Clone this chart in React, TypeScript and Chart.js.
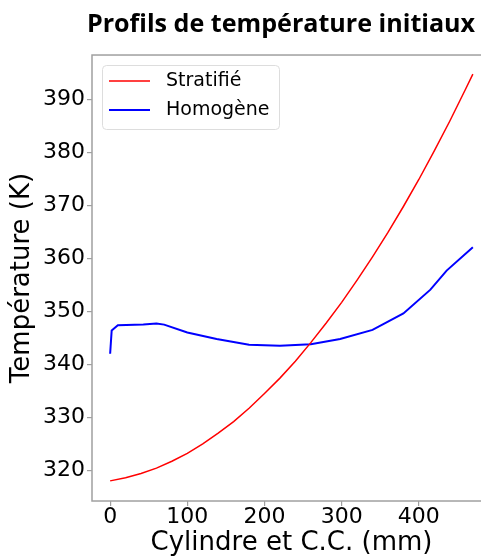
import React, { useEffect, useRef } from "react";
import { Chart, registerables } from "chart.js";

Chart.register(...registerables);

const TITLE = "Profils de température initiaux";
const X_LABEL = "Cylindre et C.C. (mm)";
const Y_LABEL = "Température (K)";

const stratX = [0, 20, 40, 60, 80, 100, 120, 140, 160, 180, 200, 220, 240, 260, 280, 300, 320, 340, 360, 380, 400, 420, 440, 460, 470];
const stratY = [318.0, 318.6, 319.4, 320.4, 321.7, 323.2, 325.0, 327.0, 329.2, 331.7, 334.5, 337.4, 340.6, 344.1, 347.8, 351.7, 355.9, 360.3, 364.9, 369.8, 374.9, 380.3, 385.9, 391.8, 394.8];

const homoX = [0, 2, 10, 43, 60, 70, 100, 138, 180, 220, 260, 298, 340, 380, 415, 436, 470];
const homoY = [342.0, 346.4, 347.4, 347.5, 347.7, 347.5, 346.0, 344.8, 343.7, 343.5, 343.8, 344.8, 346.5, 349.6, 354.1, 357.7, 362.1];

const SERIES_NAMES = ["Stratifié", "Homogène"];
const SERIES_COLORS = ["#ff0000", "#0000ff"];

const FONT = "'DejaVu Sans', sans-serif";
const TITLE_FONT = "'Open Sans', sans-serif";

const frameLegendPlugin = {
  id: "frameLegend",
  afterLayout(chart: any) {
    const tb = chart.titleBlock;
    if (tb) {
      tb.left = 71;
      tb.width = tb.right - tb.left;
    }
  },
  afterDraw(chart: any) {
    const { ctx, chartArea } = chart;
    const { left, top, right, bottom } = chartArea;
    ctx.save();
    ctx.strokeStyle = "#a0a0a0";
    ctx.lineWidth = 1.5;
    ctx.strokeRect(left, top, right - left, bottom - top);

    const lx = left + 10;
    const ly = top + 10;
    const lw = 177;
    const lh = 64;
    ctx.beginPath();
    ctx.roundRect(lx + 0.5, ly + 0.5, lw, lh, 4);
    ctx.fillStyle = "rgba(255,255,255,0.8)";
    ctx.fill();
    ctx.strokeStyle = "#dddddd";
    ctx.lineWidth = 1;
    ctx.stroke();

    ctx.font = `19px ${FONT}`;
    ctx.textBaseline = "middle";
    ctx.textAlign = "left";
    chart.data.datasets.forEach((ds: any, i: number) => {
      const y = ly + 16 + i * 29;
      ctx.beginPath();
      ctx.strokeStyle = ds.borderColor;
      ctx.lineWidth = ds.borderWidth;
      ctx.moveTo(lx + 7, y);
      ctx.lineTo(lx + 48, y);
      ctx.stroke();
      ctx.fillStyle = "#000000";
      ctx.fillText(ds.label, lx + 64, y);
    });
    ctx.restore();
  },
};

export default function App() {
  const canvasRef = useRef<HTMLCanvasElement | null>(null);

  useEffect(() => {
    if (!canvasRef.current) return;
    const chart = new Chart(canvasRef.current, {
      type: "line",
      data: {
        datasets: [
          {
            label: SERIES_NAMES[0],
            data: stratX.map((x, i) => ({ x, y: stratY[i] })),
            borderColor: SERIES_COLORS[0],
            borderWidth: 1.5,
            pointRadius: 0,
            tension: 0,
            fill: false,
          },
          {
            label: SERIES_NAMES[1],
            data: homoX.map((x, i) => ({ x, y: homoY[i] })),
            borderColor: SERIES_COLORS[1],
            borderWidth: 2,
            pointRadius: 0,
            tension: 0,
            fill: false,
          },
        ],
      },
      options: {
        animation: false,
        responsive: false,
        devicePixelRatio: 1,
        layout: { padding: { left: 0, right: 71, top: 0, bottom: 0 } },
        plugins: {
          legend: { display: false },
          tooltip: { enabled: false },
          title: {
            display: true,
            text: TITLE,
            color: "#000000",
            font: { family: TITLE_FONT, size: 25.1, weight: "bold", lineHeight: 1.2 },
            padding: { top: 10, bottom: 14.9 },
          },
        },
        scales: {
          x: {
            type: "linear",
            min: -23.5,
            max: 493.5,
            border: { display: false },
            grid: { drawOnChartArea: false, drawTicks: true, tickLength: 5, color: "#a0a0a0", lineWidth: 1.2 },
            ticks: {
              stepSize: 100,
              includeBounds: false,
              color: "#000000",
              padding: 0,
              maxRotation: 0,
              font: { family: FONT, size: 22, lineHeight: 1 },
            },
            title: {
              display: true,
              text: X_LABEL,
              color: "#000000",
              font: { family: FONT, size: 26, lineHeight: 1 },
              padding: { top: 0, bottom: 0 },
            },
            afterFit: (scale: any) => {
              scale.height = 55;
            },
          },
          y: {
            type: "linear",
            min: 314.2,
            max: 398.4,
            border: { display: false },
            grid: { drawOnChartArea: false, drawTicks: true, tickLength: 5, color: "#a0a0a0", lineWidth: 1.2 },
            ticks: {
              stepSize: 10,
              includeBounds: false,
              color: "#000000",
              padding: 2,
              font: { family: FONT, size: 22, lineHeight: 1 },
            },
            title: {
              display: true,
              text: Y_LABEL,
              color: "#000000",
              font: { family: FONT, size: 26, lineHeight: 1 },
              padding: { top: 9, bottom: 0 },
            },
            afterFit: (scale: any) => {
              scale.width = 92;
            },
          },
        },
      },
      plugins: [frameLegendPlugin],
    });
    return () => chart.destroy();
  }, []);

  return (
    <div
      style={{
        position: "fixed",
        left: 0,
        top: 0,
        width: 481,
        height: 556,
        overflow: "hidden",
        background: "#ffffff",
      }}
    >
      <canvas ref={canvasRef} width={562} height={556} style={{ display: "block" }} />
    </div>
  );
}
